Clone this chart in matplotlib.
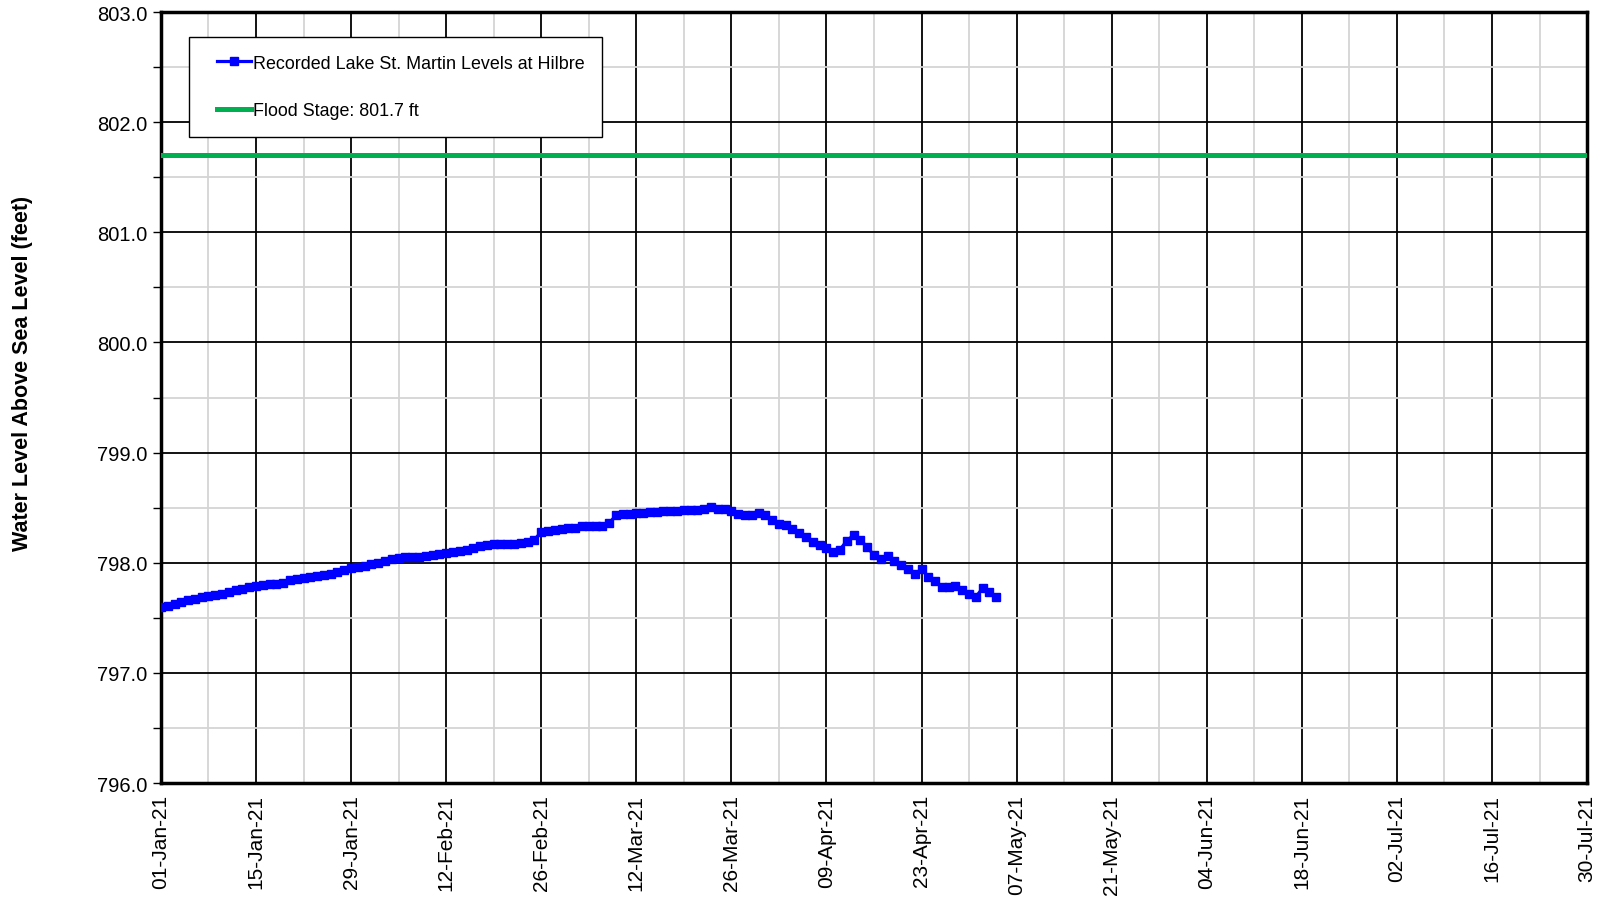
import matplotlib
matplotlib.use("Agg")
import matplotlib.pyplot as plt
import matplotlib.dates as mdates
from matplotlib.legend_handler import HandlerLine2D
import pandas as pd
import datetime as dt

plt.rcParams['font.family'] = ['Liberation Sans', 'DejaVu Sans']

# daily lake levels (ft) starting 01-Jan-21
levels = [
    797.60, 797.61, 797.63, 797.64, 797.66, 797.67, 797.69, 797.70, 797.71, 797.72,
    797.73, 797.75, 797.76, 797.78, 797.79, 797.80, 797.81, 797.81, 797.82, 797.84,
    797.85, 797.86, 797.87, 797.88, 797.89, 797.90, 797.92, 797.93, 797.95, 797.96,
    797.97, 797.99, 798.00, 798.02, 798.03, 798.04, 798.05, 798.05, 798.05, 798.06,
    798.07, 798.08, 798.09, 798.10, 798.11, 798.12, 798.13, 798.15, 798.16, 798.17,
    798.17, 798.17, 798.17, 798.18, 798.19, 798.21, 798.28, 798.29, 798.30, 798.31,
    798.32, 798.32, 798.33, 798.33, 798.33, 798.33, 798.36, 798.43, 798.44, 798.44,
    798.45, 798.45, 798.46, 798.46, 798.47, 798.47, 798.47, 798.48, 798.48, 798.48,
    798.49, 798.51, 798.49, 798.49, 798.47, 798.44, 798.43, 798.43, 798.45, 798.43,
    798.39, 798.35, 798.34, 798.31, 798.27, 798.23, 798.19, 798.16, 798.13, 798.10,
    798.12, 798.20, 798.25, 798.21, 798.14, 798.07, 798.03, 798.06, 798.02, 797.98,
    797.94, 797.90, 797.94, 797.87, 797.83, 797.78, 797.78, 797.79, 797.75, 797.72,
    797.69, 797.77, 797.73, 797.69,
]
dates = pd.date_range('2021-01-01', periods=len(levels), freq='D')
flood_stage = 801.7
start = dt.datetime(2021, 1, 1)
end = dt.datetime(2021, 7, 30)

fig = plt.figure(figsize=(16.06, 9.04), dpi=100)
ax = fig.add_axes([0.1002, 0.1327, 0.888, 0.8529])

ax.plot(dates, levels, color='#0000FF', lw=2.3, marker='s', ms=5.4,
        label='Recorded Lake St. Martin Levels at Hilbre', zorder=4)
ax.axhline(flood_stage, color='#00B050', lw=3.6,
           label='Flood Stage: %.1f ft' % flood_stage, zorder=3)

ax.set_xlim(start, end)
ax.set_ylim(796, 803)

ax.set_xticks(pd.date_range(start, end, freq='14D'))
ax.set_xticks(pd.date_range(start, end, freq='7D'), minor=True)
ax.xaxis.set_major_formatter(mdates.DateFormatter('%d-%b-%y'))
ax.set_yticks([796 + i for i in range(8)])
ax.set_yticks([796.5 + i for i in range(7)], minor=True)
ax.yaxis.set_major_formatter(matplotlib.ticker.FormatStrFormatter('%.1f'))

ax.grid(which='major', color='black', lw=1.3, zorder=1)
ax.grid(which='minor', color='#d4d4d4', lw=1.3, zorder=0)
ax.set_axisbelow(True)

for s in ax.spines.values():
    s.set_linewidth(2.5)

ax.tick_params(axis='x', which='both', length=0, pad=8, labelsize=15, labelrotation=90)
ax.tick_params(axis='y', which='major', length=6, width=1, labelsize=14.5, direction='out')
ax.tick_params(axis='y', which='minor', length=6, width=1, direction='out')

ax.set_ylabel('Water Level Above Sea Level (feet)', fontsize=15.5, fontweight='bold')
ax.yaxis.set_label_coords(-0.090, 0.533)

# trim the left end of legend handles so they sit further in from the frame
hmap = {matplotlib.lines.Line2D: HandlerLine2D(xpad=0.55)}
leg = ax.legend(loc='upper left', bbox_to_anchor=(0.020, 0.968), borderaxespad=0,
                fontsize=12.85, frameon=True, fancybox=False, edgecolor='black',
                handlelength=2.45, handletextpad=0.1, labelspacing=1.7,
                borderpad=1.0, handler_map=hmap)
leg.get_frame().set_linewidth(1.0)
leg.get_frame().set_alpha(1)

fig.savefig('out.png', dpi=100)
